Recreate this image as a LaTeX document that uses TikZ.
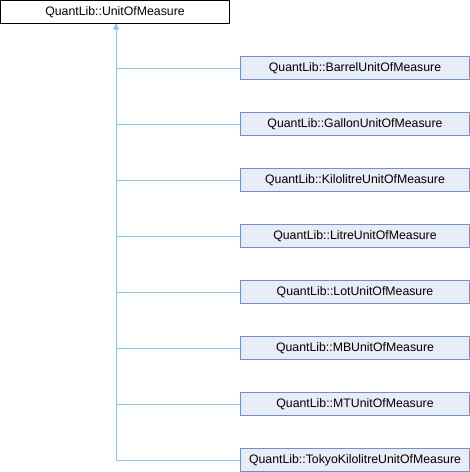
\documentclass[tikz,border=0pt]{standalone}
\usepackage{fontspec}
\setmainfont{Liberation Sans}
\usetikzlibrary{arrows.meta}
\begin{document}
\begin{tikzpicture}[x=1pt,y=1pt,
  parentbox/.style={draw=black,fill=white,line width=1pt,minimum width=229pt,minimum height=23pt,inner sep=0pt,font=\fontsize{12.3}{14}\selectfont},
  childbox/.style={draw=cbord,fill=cfill,line width=1pt,minimum width=229pt,minimum height=23pt,inner sep=0pt,font=\fontsize{12.3}{14}\selectfont},
  edge/.style={draw=edgeblue,line width=1pt,-{Triangle[length=5pt,width=4.5pt]}}]
\definecolor{cbord}{HTML}{7090CA}
\definecolor{cfill}{HTML}{E8ECF6}
\definecolor{edgeblue}{HTML}{93C6E3}
\useasboundingbox (0,0) rectangle (470,-472);
\node[parentbox] (top) at (115,-12) {QuantLib::UnitOfMeasure};
\foreach \n/\t [count=\i] in {c1/QuantLib::BarrelUnitOfMeasure,c2/QuantLib::GallonUnitOfMeasure,c3/QuantLib::KilolitreUnitOfMeasure,c4/QuantLib::LitreUnitOfMeasure,c5/QuantLib::LotUnitOfMeasure,c6/QuantLib::MBUnitOfMeasure,c7/QuantLib::MTUnitOfMeasure,c8/QuantLib::TokyoKilolitreUnitOfMeasure}{
  \node[childbox] (\n) at (355,{-68-56*(\i-1)}) {\t};
}
\foreach \n in {c1,c2,c3,c4,c5,c6,c7,c8}{
  \draw[edge] (\n.west) -| ([xshift=1pt]top.south);
}
\end{tikzpicture}
\end{document}
